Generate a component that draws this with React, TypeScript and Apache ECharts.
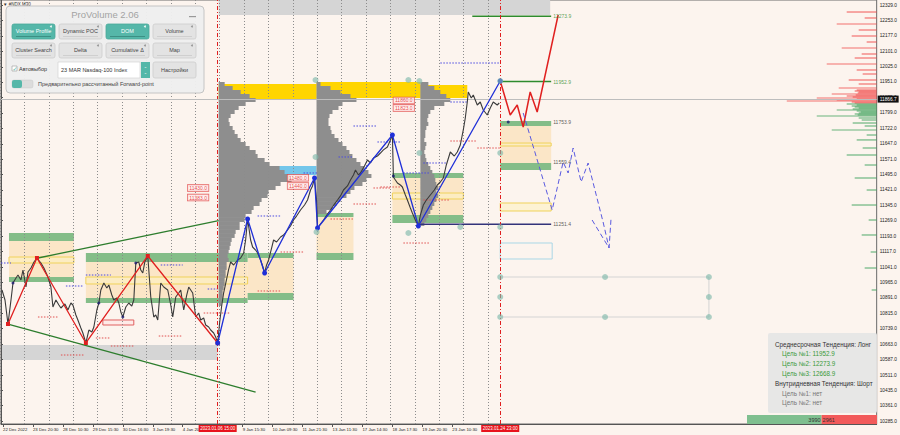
import React, { useEffect, useRef } from "react";
import * as echarts from "echarts";

// ---------- axes ----------
const timeLabels = ["22 Dec 2022", "23 Dec 20:30", "28 Dec 10:30", "29 Dec 15:30", "30 Dec 16:30", "3 Jan 19:30", "4 Jan 20:30", "9 Jan 15:30", "10 Jan 09:30", "11 Jan 21:30", "13 Jan 11:30", "17 Jan 14:30", "18 Jan 17:30", "19 Jan 20:30", "23 Jan 10:30"];
const timeLabelBars = [2, 32, 62, 92, 122, 152, 182, 242, 272, 302, 332, 362, 392, 422, 452];
const priceTicks = [10285, 10361, 10435, 10511, 10587, 10663, 10739, 10815, 10891, 10965, 11041, 11117, 11193, 11269, 11345, 11421, 11495, 11571, 11647, 11722, 11799, 11875, 11951, 12025, 12101, 12177, 12253, 12329];
const lastPrice = 11866.7;
const sessionBars = [217, 500];
const sessionLabels = ["2023.01.06 15:00", "2023.01.24 23:00"];

// ---------- price (bar index, close) ----------
const priceSeries = [
  [1, 10928.7], [4, 10879.5], [7, 10761.6], [10, 10879.5], [12, 10963.1], [15, 10987.7], [17, 11002.4], [20, 10978.0], [22, 11027.0], [25, 10943.4], [27, 11017.2], [30, 11036.8], [33, 11066.3], [36, 11085.9], [40, 11061.3], [43, 11036.8], [47, 10992.6], [50, 10943.4], [52, 10845.2], [55, 10879.5], [58, 10855.0], [60, 10840.2], [64, 10860.0], [67, 10830.4], [70, 10864.8], [72, 10855.0], [75, 10805.8], [77, 10781.3], [80, 10742.0], [82, 10717.4], [85, 10668.3], [88, 10732.1], [91, 10722.0], [93, 10746.9], [96, 10830.4], [98, 10864.8], [100, 10928.7], [103, 10963.1], [106, 10938.5], [108, 10953.3], [111, 10904.0], [113, 10879.5], [116, 10889.0], [118, 10864.8], [120, 10820.6], [122, 10796.0], [125, 10845.2], [128, 10864.8], [131, 10850.0], [133, 10879.5], [135, 11061.3], [138, 11066.3], [140, 11027.0], [142, 11012.2], [144, 11066.0], [147, 11095.8], [150, 10894.3], [153, 10796.0], [155, 10806.0], [157, 10781.3], [160, 10963.1], [163, 10943.4], [167, 10928.7], [170, 10855.0], [172, 10796.0], [175, 10894.3], [178, 10914.0], [180, 10928.7], [183, 10830.4], [186, 10904.0], [188, 10943.4], [192, 10913.9], [195, 10796.0], [198, 10815.6], [200, 10781.3], [203, 10791.0], [205, 10756.7], [208, 10746.9], [210, 10732.1], [213, 10717.4], [215, 10697.7], [217, 10668.3],
  [219, 10770.0], [221, 10850.0], [223, 10915.0], [225, 10960.0], [228, 11030.0], [230, 11066.3], [233, 11051.6], [237, 11076.1], [240, 11085.9], [243, 11110.5], [245, 11174.4], [247, 11277.5], [250, 11174.4], [252, 11140.0], [255, 11125.0], [257, 11110.5], [260, 11076.1], [262, 11046.6], [264, 11012.2], [266, 11051.6], [268, 11076.1], [271, 11135.0], [273, 11174.4], [276, 11164.5], [280, 11189.1], [283, 11199.0], [287, 11223.5], [290, 11243.0], [293, 11272.6], [296, 11292.0], [300, 11321.8], [304, 11346.3], [307, 11370.9], [310, 11420.0], [312, 11440.0], [314, 11479.0], [316, 11371.0], [317, 11233.3], [320, 11253.0], [323, 11272.6], [327, 11302.0], [330, 11321.8], [334, 11351.0], [337, 11370.9], [340, 11391.0], [343, 11420.0], [347, 11440.0], [350, 11469.2], [353, 11494.0], [355, 11518.3], [358, 11494.0], [360, 11503.6], [364, 11538.0], [367, 11567.4], [370, 11553.0], [373, 11577.3], [377, 11587.0], [380, 11601.8], [383, 11617.0], [387, 11631.3], [390, 11666.0], [392, 11690.3], [393, 11483.9], [395, 11469.0], [397, 11454.4], [400, 11444.6], [402, 11434.8], [405, 11395.5], [407, 11370.9], [410, 11331.6], [412, 11307.0], [415, 11272.6], [418, 11243.1], [420, 11297.0], [423, 11346.3], [426, 11371.0], [430, 11395.5], [434, 11420.0], [437, 11444.6], [440, 11459.3], [443, 11479.0], [446, 11543.0], [450, 11606.7], [454, 11587.0], [457, 11606.7], [460, 11641.1], [463, 11715.0], [465, 11773.8], [467, 11852.4], [468, 11901.6], [471, 11872.0], [473, 11886.8], [475, 11862.0], [477, 11837.7], [480, 11852.4], [483, 11813.0], [487, 11788.5], [490, 11822.9], [493, 11852.4], [497, 11837.7], [499, 11847.5],
];

// ---------- zigzags and projections ----------
const redZigzag = [[7, 10761.6], [36, 11085.9], [85, 10668.3], [147, 11095.8], [217, 10668.3]];
const blueZigzag = [[217, 10668.3], [247, 11277.5], [264, 11012.2], [314, 11479.0], [317, 11233.3], [392, 11690.3], [418, 11243.1], [500, 11955.6]];
const forwardRed = [[500, 11955.6], [510, 11788.5], [517, 11837.7], [523, 11729.6], [530, 11901.6], [537, 11803.3], [558, 12279.9]];
const forwardBlue = [[523, 11798.4], [552, 11321.8], [563, 11557.6], [568, 11503.6], [573, 11626.4], [581, 11459.5], [588, 11552.7], [603, 11262.8], [609, 11135.0]];
const forwardArrow = [[592, 11272.6], [609, 11135.0], [611, 11282.5]];
const supportLine = [[7, 10761.6], [255, 10427.5]];
const resistanceLine = [[37, 11085.9], [218, 11270.0]];
const forwardBox = [[500, 10992.6], [709, 10992.6], [709, 10796.0], [500, 10796.0]];

// ---------- target levels ----------
const target1 = [[472, 12273.9], [551, 12273.9]];
const target2 = [[500, 11952.9], [551, 11952.9]];
const stopLevel = [[418, 11251.4], [551, 11251.4]];
const levelLabelBar = 553;
const levelLabelPrices = [12273.9, 11952.9, 11753.9, 11559.4, 11251.4];

// ---------- zones [x0, x1, priceTop, priceBottom] ----------
const grayBands = [[0, 217, 10658.4, 10584.7], [218, 550, 12353.6, 12279.9]];
const beigeZones = [[8, 73, 11169.5, 10992.6], [85, 247, 11066.3, 10889.4], [247, 293, 11085.9, 10914.0], [316, 353, 11287.4, 11110.5], [392, 463, 11479.0, 11297.2], [500, 551, 11734.5, 11552.7]];
const greenZones = [[8, 73, 11208.8, 11169.5], [8, 73, 10992.6, 10968.0], [85, 247, 11110.5, 11066.3], [85, 247, 10889.4, 10864.8], [247, 293, 11110.5, 11085.9], [247, 293, 10914.0, 10879.5], [316, 353, 11307.0, 11287.4], [316, 353, 11110.5, 11076.1], [392, 463, 11503.6, 11479.0], [392, 463, 11297.2, 11257.9], [500, 551, 11759.0, 11734.5], [500, 551, 11552.7, 11518.3]];
const pocBands = [[218, 316, 11940.9, 11862.3], [316, 420, 11950.7, 11872.1], [420, 467, 11936.0, 11872.1]];
const skyBands = [[243, 316, 11537.9, 11493.7]];
const yellowBoxes = [[8, 73, 11090.8, 11061.3], [85, 247, 10992.6, 10958.2], [392, 463, 11405.3, 11375.8], [500, 551, 11650.9, 11636.2], [500, 551, 11356.2, 11316.9]];
const blueBoxes = [[500, 552, 11159.6, 11081.0]];
const redBoxes = [[102, 133, 10781.3, 10756.7]];

// ---------- dotted levels [x0, x1, price, isRed] ----------
const dottedLevels = [
  [0, 10, 11061.3, 0], [65, 83, 10948.3, 0], [85, 110, 11002.4, 0], [160, 182, 11051.6, 0], [207, 217, 10933.6, 0], [257, 280, 11292.3, 0], [353, 377, 11734.5, 0], [338, 353, 11582.2, 0], [377, 400, 11655.9, 0], [403, 430, 11503.6, 0], [450, 467, 11852.4, 0], [423, 447, 11552.7, 0], [303, 317, 11503.6, 0], [440, 500, 12044.0, 0],
  [37, 58, 10796.0, 1], [95, 110, 10692.9, 1], [110, 133, 10653.5, 1], [158, 182, 10702.6, 1], [203, 230, 10815.6, 1], [60, 83, 10609.3, 1], [280, 303, 11115.4, 1], [257, 280, 10923.8, 1], [353, 377, 11351.2, 1], [330, 353, 11277.5, 1], [373, 390, 11429.9, 1], [403, 430, 11159.6, 1], [450, 477, 11660.8, 1], [477, 500, 11626.4, 1], [380, 400, 11434.8, 1], [423, 450, 11370.9, 1],
];

// ---------- volume profiles ----------
const profileStarts = [218, 316, 420];
const profileTopPrice = 11940.9;
const profileBin = 19.65;
const profile1 = [6, 14, 22, 31, 37, 27, 20, 16, 12, 10, 11, 14, 16, 19, 22, 27, 31, 37, 39, 46, 51, 61, 66, 71, 73, 62, 57, 50, 49, 43, 41, 35, 33, 27, 26, 21, 21, 17, 16, 13, 12, 11, 10, 9, 10, 8, 8, 7, 7, 6, 6, 5, 4, 4, 3, 3];
const profile2 = [4, 14, 24, 34, 40, 26, 22, 16, 13, 12, 12, 14, 15, 18, 22, 26, 30, 33, 36, 40, 44, 48, 52, 55, 50, 46, 38, 34, 30, 24, 20, 16, 10];
const profile3 = [8, 14, 20, 26, 30, 24, 14, 10, 8, 7, 8, 6, 5, 5, 4, 6, 5, 4, 5, 6, 8, 10, 12, 14, 15, 16, 18, 16, 18, 16, 14, 12, 10, 8, 6, 4];

// ---------- DOM ----------
const domAskPrices = [12294.6, 12265.2, 12235.7, 12206.2, 12176.7, 12147.2, 12117.8, 12088.3, 12068.6, 12039.1, 12009.7, 11990.0, 11960.5, 11940.9, 11921.2, 11911.4, 11906.5, 11901.6, 11896.6, 11891.7, 11886.8, 11881.9, 11877.0, 11872.1, 11867.2, 11862.3, 11857.3, 11852.4, 11847.5];
const domAskSizes = [30, 12, 40, 18, 25, 10, 35, 15, 22, 50, 20, 14, 28, 18, 38, 20, 22, 18, 19, 45, 21, 30, 24, 60, 20, 40, 90, 25, 22];
const domBidPrices = [11842.6, 11837.7, 11832.8, 11827.9, 11822.9, 11818.0, 11813.1, 11808.2, 11803.3, 11798.4, 11793.5, 11788.5, 11783.6, 11773.8, 11764.0, 11749.2, 11734.5, 11714.9, 11690.3, 11666.0, 11626.4, 11592.0, 11542.9, 11479.0, 11420.0, 11346.3, 11272.6, 11199.0, 11115.4, 11036.8, 10928.7];
const domBidSizes = [30, 20, 25, 22, 18, 24, 40, 20, 16, 18, 22, 19, 60, 18, 15, 24, 12, 45, 10, 20, 14, 30, 12, 22, 10, 25, 8, 15, 6, 12, 5];

// ---------- markers / tags ----------
const markerPoints = [[315, 11960.5], [315, 11582.2], [316, 11213.7], [408, 11960.5], [419, 11955.6], [419, 11601.8], [408, 11208.8], [460, 11238.3], [500, 11955.6], [500, 11601.8], [500, 11238.3], [500, 10992.6], [605, 10992.6], [709, 10992.6], [500, 10894.3], [709, 10894.3], [500, 10796.0], [605, 10796.0], [709, 10796.0]];
const swingDots = [[12, 10963.1], [98, 10864.8], [122, 10796.0], [135, 11061.3], [393, 11488.8], [508, 11754.0]];
const priceTags = [[187, 11430.0], [187, 11383.0], [287, 11480.0], [287, 11440.0], [393, 11860.0], [393, 11823.0]];

// ---------- volume balance ----------
const buyVolume = 3990;
const sellVolume = 2961;

// ---------- texts ----------
const panelTitle = "ProVolume 2.06";
const buttonRows = [["Volume Profile", "Dynamic POC", "DOM", "Volume"], ["Cluster Search", "Delta", "Cumulative Δ", "Map"]];
const activeButtons = ["Volume Profile", "DOM"];
const infoLines = ["Среднесрочная Тенденция: Лонг", "Цель №1: 11952.9", "Цель №2: 12273.9", "Цель №3: 12668.9", "Внутридневная Тенденция: Шорт", "Цель №1: нет", "Цель №2: нет"];
const infoKinds = [0, 1, 1, 1, 0, 2, 2];

const FONT = "Liberation Sans, Arial, sans-serif";
const BG = "#fcf4ee";
const TEAL = "#55b7a9";
const X_MAX = 877;
const Y_MIN = 10270.3;
const Y_MAX = 12353.6;

const zoneStyles: any[] = [
  { fill: "#d5d5d5" },
  { fill: "#fbe6c7" },
  { fill: "#84bd88" },
  { fill: "#ffd500" },
  { fill: "#74c6ea" },
  { fill: "rgba(253,240,190,0.55)", stroke: "#f0d25a", lineWidth: 1 },
  { fill: "rgba(0,0,0,0)", stroke: "#a9d7e6", lineWidth: 1 },
  { fill: "rgba(255,225,225,0.5)", stroke: "#e06060", lineWidth: 1 },
];

function panelGraphics() {
  const els: any[] = [];
  const Z = 100;
  els.push({ type: "text", z: Z, x: 3, y: 4, style: { text: "▼ #NDX,M30", fill: "#333", fontSize: 4.5, fontFamily: FONT, verticalAlign: "middle" } });
  els.push({ type: "rect", z: Z, shape: { x: 6, y: 6, width: 198, height: 87, r: 4 }, style: { fill: "rgba(238,238,238,0.96)", stroke: "#c4c4c4", lineWidth: 1 } });
  els.push({ type: "text", z: Z + 1, x: 105, y: 14.5, style: { text: panelTitle, fill: "#a3a3a3", fontSize: 9.5, fontFamily: FONT, align: "center", verticalAlign: "middle" } });
  els.push({ type: "rect", z: Z + 1, shape: { x: 189, y: 16, width: 7, height: 1.2 }, style: { fill: "#999" } });
  buttonRows.forEach((row, r) =>
    row.forEach((label, c) => {
      const x = 12 + c * 47;
      const y = 24 + r * 19;
      const active = activeButtons.includes(label);
      els.push({ type: "rect", z: Z + 1, shape: { x, y, width: 43, height: 15, r: 2 }, style: { fill: active ? TEAL : "#e3e3e3", stroke: active ? "#4aa89a" : "#cdcdcd", lineWidth: 0.8 } });
      els.push({ type: "text", z: Z + 2, x: x + 21.5, y: y + 7, style: { text: label, fill: active ? "#fff" : "#444", fontSize: 5.5, fontFamily: FONT, align: "center", verticalAlign: "middle" } });
      els.push({ type: "rect", z: Z + 2, shape: { x: x + 4, y: y + 12, width: 35, height: 1 }, style: { fill: active ? "#3d8f84" : "#cfcfcf" } });
      els.push({ type: "circle", z: Z + 2, shape: { cx: x + 39, cy: y + 2.5, r: 1 }, style: { fill: active ? "#e8f6f3" : "#999" } });
    })
  );
  els.push({ type: "rect", z: Z + 1, shape: { x: 12, y: 66, width: 5, height: 5 }, style: { fill: "#fff", stroke: "#999", lineWidth: 0.6 } });
  els.push({ type: "text", z: Z + 2, x: 12.5, y: 68, style: { text: "✓", fill: TEAL, fontSize: 6, fontFamily: "DejaVu Sans", verticalAlign: "middle" } });
  els.push({ type: "text", z: Z + 2, x: 19, y: 69, style: { text: "Автовыбор", fill: "#333", fontSize: 5.5, fontFamily: FONT, verticalAlign: "middle" } });
  els.push({ type: "rect", z: Z + 1, shape: { x: 58, y: 62, width: 82, height: 16 }, style: { fill: "#fff", stroke: "#cfcfcf", lineWidth: 0.6 } });
  els.push({ type: "text", z: Z + 2, x: 61, y: 70, style: { text: "23 MAR Nasdaq-100 Index", fill: "#333", fontSize: 5.5, fontFamily: FONT, verticalAlign: "middle" } });
  els.push({ type: "rect", z: Z + 1, shape: { x: 141, y: 62, width: 9, height: 16 }, style: { fill: TEAL } });
  els.push({ type: "text", z: Z + 2, x: 145.5, y: 70, style: { text: "⌃\n⌄", fill: "#fff", fontSize: 4, fontFamily: "DejaVu Sans", align: "center", verticalAlign: "middle" } });
  els.push({ type: "rect", z: Z + 1, shape: { x: 153, y: 62, width: 43, height: 16, r: 2 }, style: { fill: "#e3e3e3", stroke: "#cdcdcd", lineWidth: 0.8 } });
  els.push({ type: "text", z: Z + 2, x: 174.5, y: 70, style: { text: "Настройки", fill: "#444", fontSize: 5.5, fontFamily: FONT, align: "center", verticalAlign: "middle" } });
  els.push({ type: "rect", z: Z + 1, shape: { x: 12, y: 80, width: 21, height: 8, r: 2 }, style: { fill: "#dcdcdc", stroke: "#c8c8c8", lineWidth: 0.5 } });
  els.push({ type: "rect", z: Z + 2, shape: { x: 12, y: 80, width: 10, height: 8, r: 2 }, style: { fill: TEAL } });
  els.push({ type: "text", z: Z + 2, x: 38, y: 84, style: { text: "Предварительно рассчитанный Forward-point", fill: "#444", fontSize: 5.5, fontFamily: FONT, verticalAlign: "middle" } });
  els.push({ type: "rect", z: Z, shape: { x: 768, y: 333, width: 109, height: 80, r: 2 }, style: { fill: "rgba(229,229,229,0.93)" } });
  infoLines.forEach((t, i) => {
    const k = infoKinds[i];
    els.push({ type: "text", z: Z + 1, x: k === 0 ? 775 : 782, y: 344 + i * 9.8, style: { text: t, fill: k === 0 ? "#333" : k === 1 ? "#3a9a3a" : "#777", fontSize: 6.3, fontFamily: FONT, verticalAlign: "middle" } });
  });
  return els;
}

function buildOption(): any {
  const zoneData: any[] = [];
  [grayBands, beigeZones, greenZones, pocBands, skyBands, yellowBoxes, blueBoxes, redBoxes].forEach((arr, k) =>
    arr.forEach((z) => zoneData.push([z[0], z[2], z[1], z[3], k]))
  );
  const profileData: any[] = [];
  [profile1, profile2, profile3].forEach((w, i) =>
    w.forEach((v, j) => profileData.push([profileStarts[i], profileTopPrice - j * profileBin, v]))
  );
  const domData: any[] = [
    ...domAskPrices.map((p, i) => [X_MAX - domAskSizes[i], p, 1]),
    ...domBidPrices.map((p, i) => [X_MAX - domBidSizes[i], p, 0]),
  ];

  const lineBase = { type: "line", showSymbol: false, silent: true, z: 4, xAxisIndex: 0, yAxisIndex: 0 };

  return {
    animation: false,
    backgroundColor: BG,
    textStyle: { fontFamily: FONT },
    graphic: { elements: panelGraphics() },
    grid: [
      { left: 0, right: 23, top: 0, bottom: 11, show: true, borderColor: "#6a6a6a", borderWidth: 1, backgroundColor: BG },
      { left: 0, right: 400, top: 0, bottom: 11 },
      { left: 747, right: 23, bottom: 11, height: 9 },
    ],
    xAxis: [
      {
        gridIndex: 0, type: "value", min: 0, max: X_MAX,
        axisLine: { show: true, lineStyle: { color: "#555" } },
        axisTick: { show: true, customValues: timeLabelBars, length: 3, lineStyle: { color: "#555" } },
        axisLabel: { customValues: timeLabelBars, formatter: (v: number) => timeLabels[timeLabelBars.indexOf(v)] ?? "", align: "left", fontSize: 4.3, color: "#222", margin: 3 },
        splitLine: { show: false },
      },
      {
        gridIndex: 1, type: "value", min: -12.7, max: 487.3, interval: 24.4, z: 1,
        axisLine: { show: false }, axisTick: { show: false }, axisLabel: { show: false },
        splitLine: { show: true, lineStyle: { color: "#8c8c8c", type: [1, 2], width: 1 } },
      },
      { gridIndex: 2, type: "value", min: 0, max: buyVolume + sellVolume, show: false },
    ],
    yAxis: [
      {
        gridIndex: 0, type: "value", position: "right", min: Y_MIN, max: Y_MAX,
        axisLine: { show: true, lineStyle: { color: "#555" } },
        axisTick: { show: true, customValues: priceTicks, length: 2, lineStyle: { color: "#555" } },
        axisLabel: { customValues: priceTicks, formatter: (v: number) => v.toFixed(1), fontSize: 4.8, color: "#222", margin: 3 },
        splitLine: { show: false },
      },
      { gridIndex: 1, type: "value", min: Y_MIN, max: Y_MAX, show: false },
      { gridIndex: 2, type: "category", data: ["vol"], show: false },
    ],
    series: [
      {
        type: "custom", name: "zones", z: 0, silent: true, xAxisIndex: 0, yAxisIndex: 0,
        data: zoneData,
        renderItem: (_p: any, api: any) => {
          const a = api.coord([api.value(0), api.value(1)]);
          const b = api.coord([api.value(2), api.value(3)]);
          return { type: "rect", shape: { x: a[0], y: a[1], width: b[0] - a[0], height: b[1] - a[1] }, style: zoneStyles[api.value(4)] };
        },
      },
      {
        type: "custom", name: "profiles", z: 0, silent: true, xAxisIndex: 0, yAxisIndex: 0,
        data: profileData,
        renderItem: (_p: any, api: any) => {
          const a = api.coord([api.value(0), api.value(1) + profileBin / 2]);
          const b = api.coord([api.value(0) + api.value(2), api.value(1) - profileBin / 2]);
          return { type: "rect", shape: { x: a[0], y: a[1], width: b[0] - a[0], height: b[1] - a[1] }, style: { fill: "#8e8e8e" } };
        },
      },
      {
        type: "custom", name: "dom", z: 1, silent: true, xAxisIndex: 0, yAxisIndex: 0,
        data: domData,
        renderItem: (_p: any, api: any) => {
          const a = api.coord([api.value(0), api.value(1)]);
          const b = api.coord([X_MAX, api.value(1)]);
          return { type: "rect", shape: { x: a[0], y: a[1] - 0.6, width: b[0] - a[0], height: 1.2 }, style: { fill: api.value(2) ? "rgba(240,70,70,0.75)" : "rgba(60,160,90,0.75)" } };
        },
      },
      {
        type: "custom", name: "dotted", z: 3, silent: true, xAxisIndex: 0, yAxisIndex: 0,
        data: dottedLevels.map((d) => [d[0], d[2], d[1], d[3]]),
        renderItem: (_p: any, api: any) => {
          const a = api.coord([api.value(0), api.value(1)]);
          const b = api.coord([api.value(2), api.value(1)]);
          return { type: "line", shape: { x1: a[0], y1: a[1], x2: b[0], y2: b[1] }, style: { stroke: api.value(3) ? "#e05050" : "#4a4ae0", lineWidth: 1, lineDash: [1.5, 1.5] } };
        },
      },
      { ...lineBase, name: "forwardBox", data: forwardBox, lineStyle: { color: "#d4d4d4", width: 1 } },
      { ...lineBase, name: "support", data: supportLine, lineStyle: { color: "#2d7d2d", width: 1.3 } },
      { ...lineBase, name: "resistance", data: resistanceLine, lineStyle: { color: "#2d7d2d", width: 1.3 } },
      {
        ...lineBase, name: "price", data: priceSeries, z: 5, lineStyle: { color: "#3a3a3a", width: 1.1 },
        markLine: {
          symbol: ["none", "none"], silent: true,
          data: [
            ...sessionBars.map((b, i) => ({
              xAxis: b,
              lineStyle: { color: "#e02020", type: [4, 2, 1, 2], width: 1 },
              label: { show: true, position: "start", formatter: sessionLabels[i], backgroundColor: "#e8141c", color: "#fff", fontSize: 4.5, padding: [1, 1.5], distance: 1 },
            })),
            {
              yAxis: lastPrice,
              lineStyle: { color: "#bdbdbd", type: "solid", width: 1 },
              label: { show: true, position: "end", formatter: lastPrice.toFixed(1), backgroundColor: "#111", color: "#fff", fontSize: 4.8, padding: [1, 2], distance: 1 },
            },
          ],
        },
      },
      { ...lineBase, name: "target1", data: target1, lineStyle: { color: "#2e8b2e", width: 1.5 } },
      { ...lineBase, name: "target2", data: target2, lineStyle: { color: "#2e8b2e", width: 1.5 } },
      { ...lineBase, name: "stop", data: stopLevel, lineStyle: { color: "#33337a", width: 1.5 } },
      { ...lineBase, name: "redZigzag", data: redZigzag, z: 6, showSymbol: true, symbol: "rect", symbolSize: 4, itemStyle: { color: "#e02020" }, lineStyle: { color: "#e02020", width: 1.3 } },
      { ...lineBase, name: "blueZigzag", data: blueZigzag, z: 6, showSymbol: true, symbol: "circle", symbolSize: 5, itemStyle: { color: "#1f2fd8" }, lineStyle: { color: "#1f2fd8", width: 1.3 } },
      { ...lineBase, name: "forwardRed", data: forwardRed, z: 6, lineStyle: { color: "#e02020", width: 1.5 } },
      { ...lineBase, name: "forwardBlue", data: forwardBlue, z: 6, lineStyle: { color: "#5a5ae0", width: 1, type: [5, 3] } },
      { ...lineBase, name: "forwardArrow", data: forwardArrow, z: 6, lineStyle: { color: "#5a5ae0", width: 1, type: [5, 3] } },
      { type: "scatter", name: "markers", silent: true, z: 7, data: markerPoints, symbolSize: 6, itemStyle: { color: "rgba(126,184,170,0.8)" } },
      { type: "scatter", name: "swings", silent: true, z: 7, data: swingDots, symbolSize: 3, itemStyle: { color: "#1a1a70" } },
      {
        type: "scatter", name: "tags", silent: true, z: 8, data: priceTags, symbolSize: 0.1, itemStyle: { color: "rgba(0,0,0,0)" },
        label: { show: true, position: "right", distance: 0, formatter: (d: any) => d.value[1].toFixed(1), fontSize: 5, color: "#e02020", backgroundColor: "#fff0f0", borderColor: "#e04040", borderWidth: 0.7, padding: [0.5, 1.5] },
      },
      {
        type: "scatter", name: "levelLabels", silent: true, z: 8, symbolSize: 0.1, itemStyle: { color: "rgba(0,0,0,0)" },
        data: levelLabelPrices.map((p, i) => ({ value: [levelLabelBar, p], label: { color: i < 2 ? "#2e8b2e" : "#333" } })),
        label: { show: true, position: "right", distance: 0, formatter: (d: any) => d.value[1].toFixed(1), fontSize: 5 },
      },
      {
        type: "bar", name: "buy", xAxisIndex: 2, yAxisIndex: 2, stack: "vol", barWidth: "100%", silent: true,
        data: [buyVolume], itemStyle: { color: "#7fbf8f" },
        label: { show: true, position: "insideRight", fontSize: 5.5, color: "#333", distance: 1 },
      },
      {
        type: "bar", name: "sell", xAxisIndex: 2, yAxisIndex: 2, stack: "vol", barWidth: "100%", silent: true,
        data: [sellVolume], itemStyle: { color: "#f25a5a" },
        label: { show: true, position: "insideLeft", fontSize: 5.5, color: "#333", distance: 1 },
      },
    ],
  };
}

export default function App() {
  const ref = useRef<HTMLDivElement>(null);
  useEffect(() => {
    if (!ref.current) return;
    const chart = echarts.init(ref.current, null, { renderer: "svg" });
    chart.setOption(buildOption());
    return () => chart.dispose();
  }, []);
  return <div ref={ref} style={{ position: "fixed", left: 0, top: 0, width: 900, height: 435, background: BG }} />;
}
